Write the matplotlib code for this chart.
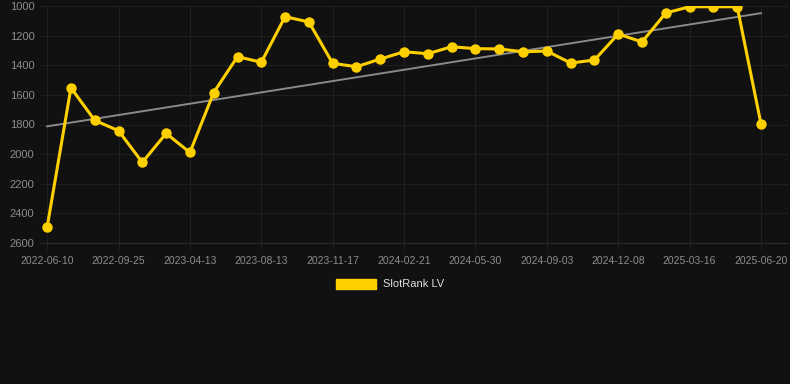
#! /usr/bin/env python3
# coding: utf-8

"""
    SlotRank LV - évolution du rang dans le temps (fond sombre)
"""

import numpy as np
import matplotlib
matplotlib.use("Agg")
import matplotlib.pyplot as plt
from matplotlib.patches import Patch


# données
dates_ticks = ["2022-06-10", "2022-09-25", "2023-04-13", "2023-08-13", "2023-11-17",
               "2024-02-21", "2024-05-30", "2024-09-03", "2024-12-08", "2025-03-16",
               "2025-06-20"]
rang = [2493, 1552, 1772, 1842, 2056, 1860, 1989, 1584, 1342, 1380,
        1072, 1108, 1387, 1410, 1358, 1309, 1322, 1275, 1288, 1290,
        1309, 1304, 1385, 1365, 1189, 1243, 1047, 1005, 1005, 1005,
        1797]

FOND = "#111111"
JAUNE = "#ffd000"
GRIS_TEXTE = "#8c8c8c"

plt.rcParams['font.family'] = ['Liberation Sans', 'DejaVu Sans']

fig = plt.figure(figsize=(7.9, 3.84), dpi=100, facecolor=FOND)
ax = fig.add_axes([40 / 790, 141 / 384, 748 / 790, 237 / 384], facecolor=FOND)

x = np.arange(len(rang))

# droite de tendance (régression linéaire)
a, b = np.polyfit(x, rang, 1)
ax.plot(x, a * x + b, color="#8a8a8a", lw=1.4, zorder=2)

ax.plot(x, rang, color=JAUNE, lw=2.2, marker='o', markersize=6.5, zorder=3)

ax.set_xlim(-0.3, 30 + 27 / 23.8)
ax.set_ylim(2600, 1000)
ax.set_yticks(np.arange(1000, 2601, 200))
ax.set_xticks(x[::3])
ax.set_xticklabels(dates_ticks)

ax.grid(True, color="#1f1f1f", lw=0.8)
for s in ax.spines.values():
    s.set_visible(False)
ax.spines['bottom'].set_visible(True)
ax.spines['bottom'].set_color("#2c2c2c")
ax.tick_params(axis='y', colors=GRIS_TEXTE, labelsize=8, length=0, pad=4)
ax.tick_params(axis='x', colors=GRIS_TEXTE, labelsize=7.5, length=5, color="#1f1f1f", pad=4)

fig.legend(handles=[Patch(color=JAUNE, label="SlotRank LV")],
           loc='center', bbox_to_anchor=(390 / 790, 1 - 284 / 384),
           frameon=False, fontsize=8, labelcolor="#dddddd",
           handlelength=3.6, handleheight=1.0, handletextpad=0.6)

plt.savefig("out.png", dpi=100, facecolor=FOND)
